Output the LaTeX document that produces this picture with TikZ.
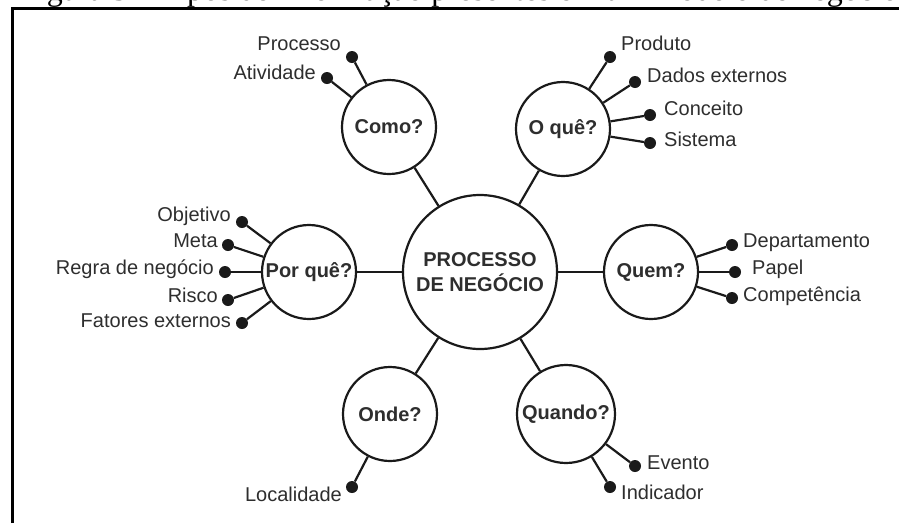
\documentclass[tikz,border=0pt]{standalone}
\usepackage{fontspec}
\setmainfont{Liberation Sans}
\newfontfamily\capfont{Liberation Serif}
\definecolor{ink}{HTML}{1A1A1A}
\definecolor{txt}{HTML}{2E2E2E}
\begin{document}
\begin{tikzpicture}[x=1pt,y=-1pt,
  hub/.style={circle,draw=ink,line width=2.2pt,minimum size=154pt,inner sep=0pt,
    font=\fontsize{20}{25}\selectfont\bfseries,text=txt,align=center},
  qbox/.style={circle,draw=ink,line width=2.2pt,minimum size=94pt,inner sep=0pt,
    font=\fontsize{20}{24}\selectfont\bfseries,text=txt},
  bullet/.style={circle,fill=ink,minimum size=12pt,inner sep=0pt},
  leaf/.style={font=\fontsize{20}{24}\selectfont,text=txt,inner sep=0pt},
  link/.style={draw=ink,line width=2.2pt},
  frameline/.style={draw=black,line width=3pt},
]
\useasboundingbox (0,0) rectangle (899,523);
\clip (0,0) rectangle (899,523);
\fill[white] (0,0) rectangle (899,523);

% cropped caption
\node[anchor=base west,inner sep=0pt,font=\capfont\fontsize{32}{36}\selectfont] (caption) at (20,0.5)
  {Figura 3 – Tipos de informação presentes em um modelo de negócio};

% frame
\coordinate (fbl) at (12.5,523);
\coordinate (ftl) at (12.5,8.5);
\coordinate (ftr) at (899,8.5);
\draw[frameline] (fbl) -- (ftl) -- (ftr);

% circles
\node[hub] (hub) at (480,272) {PROCESSO\\DE NEGÓCIO};
\node[qbox] (como) at (389,127) {Como?};
\node[qbox] (oque) at (563,129) {O quê?};
\node[qbox] (porque) at (309,272) {Por quê?};
\node[qbox] (quem) at (651,272) {Quem?};
\node[qbox] (onde) at (390,414) {Onde?};
\node[qbox,minimum size=98pt] (quando) at (566,414) {Quando?};

\foreach \q in {como,oque,porque,quem,onde,quando} \draw[link] (hub) -- (\q);

% bullets
\node[bullet] (dProcesso) at (352,57) {};
\node[bullet] (dAtividade) at (327,78) {};
\node[bullet] (dProduto) at (610,57) {};
\node[bullet] (dDados) at (635,82) {};
\node[bullet] (dConceito) at (650,115) {};
\node[bullet] (dSistema) at (650,143) {};
\node[bullet] (dObjetivo) at (242,222) {};
\node[bullet] (dMeta) at (228,245) {};
\node[bullet] (dRegra) at (225,272) {};
\node[bullet] (dRisco) at (228,300) {};
\node[bullet] (dFatores) at (242,323) {};
\node[bullet] (dDep) at (732,245) {};
\node[bullet] (dPapel) at (735,272) {};
\node[bullet] (dComp) at (732,298) {};
\node[bullet] (dLocal) at (352,487) {};
\node[bullet] (dEvento) at (635,466) {};
\node[bullet] (dIndic) at (610,487) {};

% connectors to bullets
\foreach \d in {dProcesso,dAtividade} \draw[link] (como) -- (\d);
\foreach \d in {dProduto,dDados,dConceito,dSistema} \draw[link] (oque) -- (\d);
\foreach \d in {dObjetivo,dMeta,dRegra,dRisco,dFatores} \draw[link] (porque) -- (\d);
\foreach \d in {dDep,dPapel,dComp} \draw[link] (quem) -- (\d);
\draw[link] (onde) -- (dLocal);
\foreach \d in {dEvento,dIndic} \draw[link] (quando) -- (\d);

% labels
\node[leaf,anchor=mid east] (tProcesso) at (341,48) {Processo};
\node[leaf,anchor=mid east] (tAtividade) at (316,77) {Atividade};
\node[leaf,anchor=mid west] (tProduto) at (621,48) {Produto};
\node[leaf,anchor=mid west] (tDados) at (647,80) {Dados externos};
\node[leaf,anchor=mid west] (tConceito) at (664,113) {Conceito};
\node[leaf,anchor=mid west] (tSistema) at (664,144) {Sistema};
\node[leaf,anchor=mid east] (tObjetivo) at (231,219) {Objetivo};
\node[leaf,anchor=mid east] (tMeta) at (218,245) {Meta};
\node[leaf,anchor=mid east] (tRegra) at (214,272) {Regra de negócio};
\node[leaf,anchor=mid east] (tRisco) at (218,300) {Risco};
\node[leaf,anchor=mid east] (tFatores) at (231,325) {Fatores externos};
\node[leaf,anchor=mid west] (tDep) at (743,245) {Departamento};
\node[leaf,anchor=mid west] (tPapel) at (752,272) {Papel};
\node[leaf,anchor=mid west] (tComp) at (743,299) {Competência};
\node[leaf,anchor=mid east] (tLocal) at (342,499) {Localidade};
\node[leaf,anchor=mid west] (tEvento) at (647,467) {Evento};
\node[leaf,anchor=mid west] (tIndic) at (621,497) {Indicador};
\end{tikzpicture}
\end{document}
